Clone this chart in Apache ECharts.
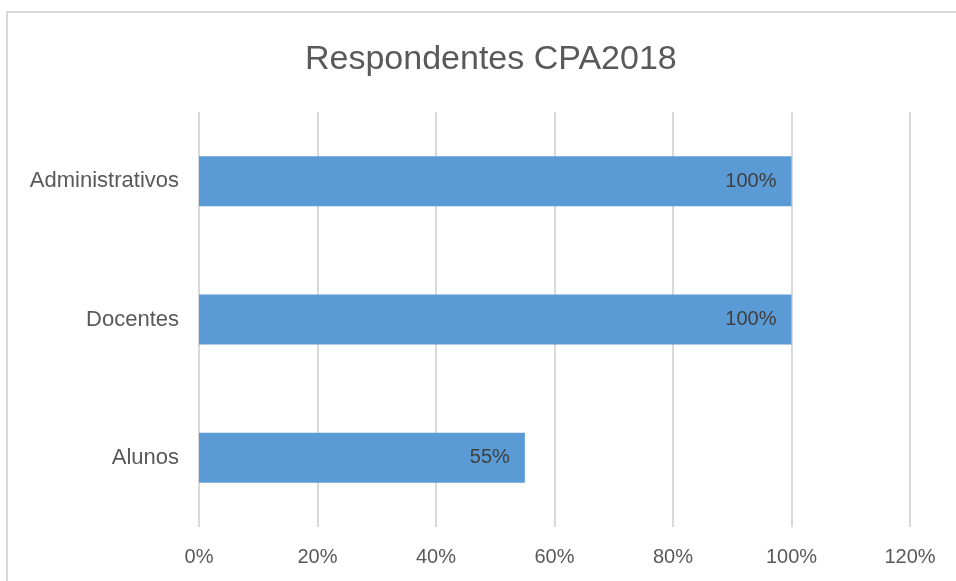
<!DOCTYPE html>
<html>
<head>
<meta charset="utf-8">
<style>
  html, body { margin: 0; padding: 0; background: #fff; }
  #chart { width: 956px; height: 581px; }
</style>
<script src="https://cdn.jsdelivr.net/npm/echarts@6/dist/echarts.min.js"></script>
</head>
<body>
<div id="chart"></div>
<script>
var categories = ["Alunos", "Docentes", "Administrativos"];
var values = [55, 100, 100];
var xTicks = [0, 20, 40, 60, 80, 100, 120];

var fontName = "'Liberation Sans Narrow', 'Arial Narrow', 'Liberation Sans', Arial, sans-serif";
var chart = echarts.init(document.getElementById("chart"));

var option = {
  backgroundColor: "#fff",
  animation: false,
  // chart frame (only top/left edges are visible in the original)
  graphic: [{
    type: "rect",
    shape: { x: 7, y: 12, width: 1000, height: 1000 },
    style: { fill: "none", stroke: "#d9d9d9", lineWidth: 2 },
    silent: true
  }],
  title: {
    text: "Respondentes CPA2018",
    left: 300,
    top: 38,
    textStyle: {
      fontFamily: fontName,
      fontSize: 34,
      fontWeight: "normal",
      color: "#595959"
    }
  },
  grid: {
    left: 199,
    right: 46,
    top: 112,
    bottom: 54,
    containLabel: false
  },
  xAxis: {
    type: "value",
    min: xTicks[0],
    max: xTicks[xTicks.length - 1],
    interval: 20,
    axisLine: { show: false },
    axisTick: { show: false },
    axisLabel: {
      formatter: "{value}%",
      margin: 20,
      fontFamily: fontName,
      fontSize: 20,
      color: "#595959"
    },
    splitLine: { lineStyle: { color: "#d9d9d9", width: 2 } }
  },
  yAxis: {
    type: "category",
    data: categories,
    axisLine: { show: false },
    axisTick: { show: false },
    axisLabel: {
      margin: 20,
      fontFamily: fontName,
      fontSize: 22,
      color: "#595959"
    }
  },
  series: [{
    type: "bar",
    data: values,
    barWidth: 50,
    itemStyle: { color: "#5b9bd5" },
    label: {
      show: true,
      position: "insideRight",
      distance: 15,
      formatter: "{c}%",
      fontFamily: fontName,
      fontSize: 20,
      color: "#404040"
    }
  }]
};

chart.setOption(option);
window.addEventListener("resize", chart.resize);
</script>
</body>
</html>
